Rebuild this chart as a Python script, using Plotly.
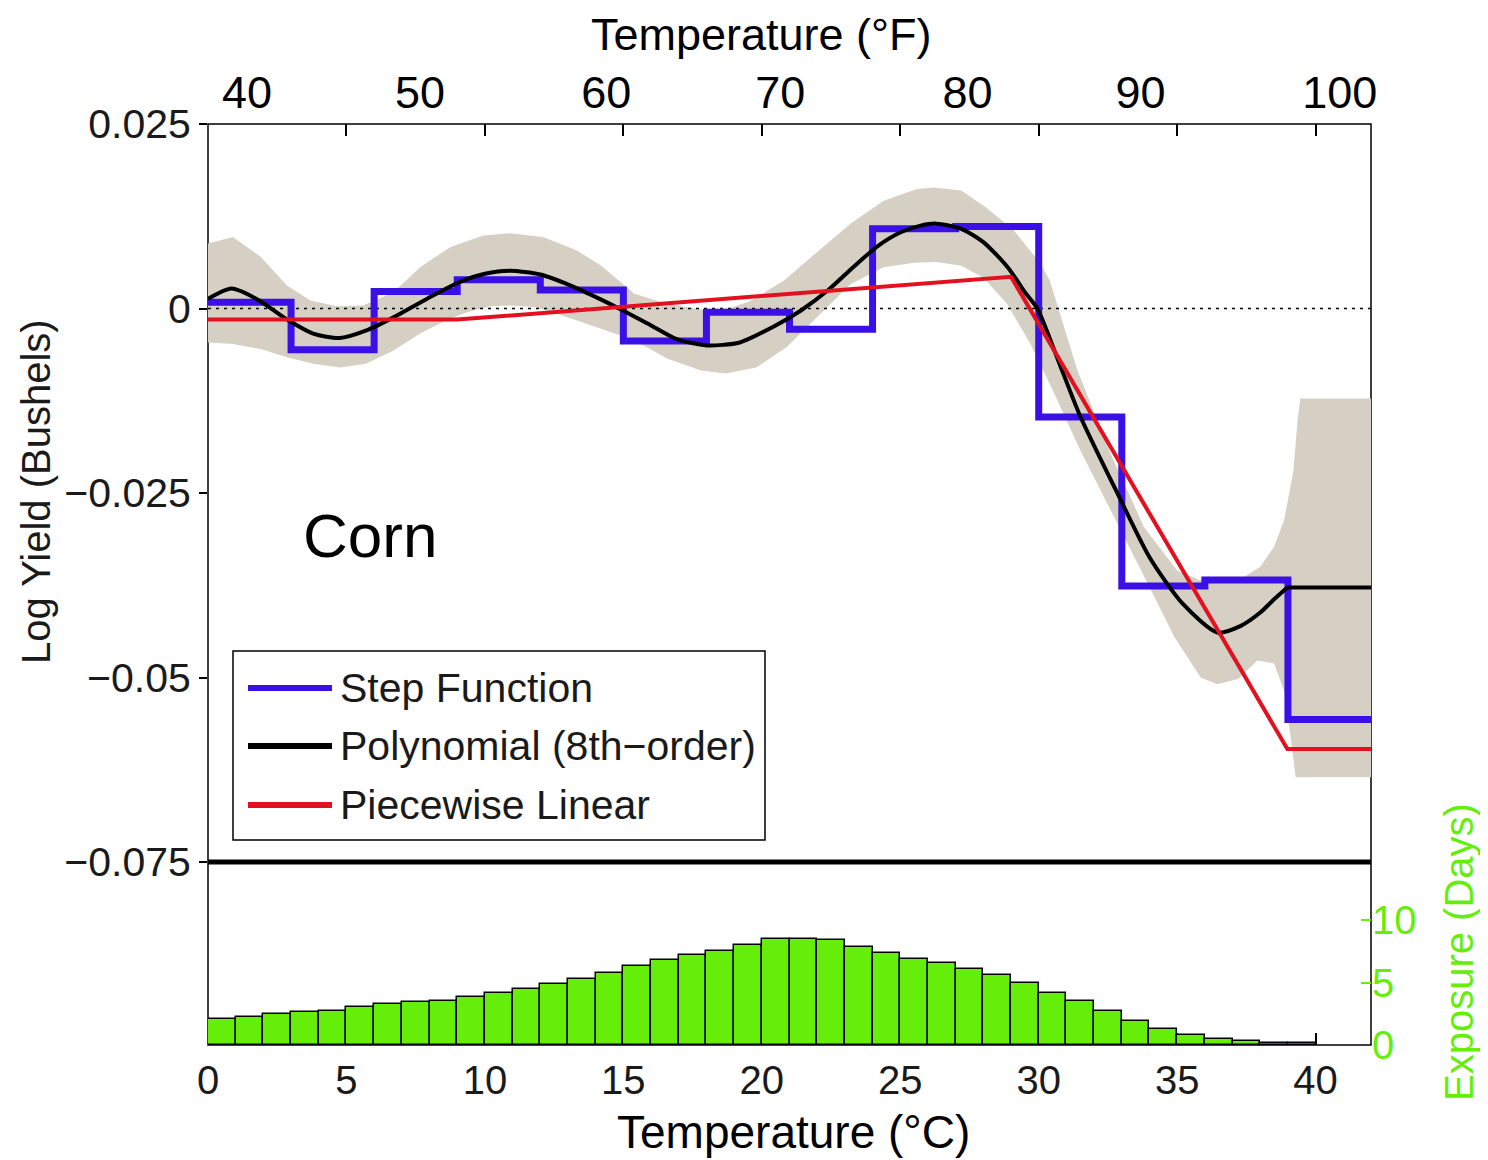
import plotly.graph_objects as go

# ---------------- data ----------------
# Step function (3 °C bins)
STEP_EDGES_C = [0, 3, 6, 9, 12, 15, 18, 21, 24, 27, 30, 33, 36, 39, 42]
STEP_VALUES = [0.00086, -0.0056, 0.0023, 0.0039, 0.0025, -0.0044, -0.0005,
               -0.0028, 0.0108, 0.0111, -0.0147, -0.0376, -0.0368, -0.0557]

# Polynomial (8th order) curve
POLY_T = [0.0, 0.85, 1.8, 2.9, 3.8, 4.75, 5.7, 6.7, 7.9, 9.1, 10.0, 10.9, 12.0,
          13.1, 14.2, 15.0, 16.0, 16.9, 18.0, 19.2, 20.4, 21.4, 22.4, 23.3, 24.2,
          25.0, 25.7, 26.3, 27.2, 28.0, 28.9, 29.5, 29.95, 30.7, 31.5, 32.85,
          34.0, 35.2, 36.45, 37.3, 38.0, 38.5, 38.98, 42.0]
POLY_V = [0.0013, 0.0027, 0.0012, -0.0016, -0.0034, -0.0040, -0.0030, -0.0012,
          0.0013, 0.0036, 0.0047, 0.0051, 0.0046, 0.0031, 0.0012, -0.0003,
          -0.0023, -0.0041, -0.0050, -0.0046, -0.0025, -0.0003, 0.0025, 0.0056,
          0.0085, 0.0103, 0.0112, 0.0115, 0.0108, 0.0090, 0.0055, 0.0022, 0.0,
          -0.0070, -0.0146, -0.0251, -0.0337, -0.0400, -0.0439, -0.0430, -0.0412,
          -0.0394, -0.0378, -0.0378]
POLY_FLAT_FROM = 38.98   # polynomial held constant beyond this temperature

# Confidence band of polynomial
BAND_UP_T = [0.0, 0.9, 1.9, 2.85, 3.7, 4.65, 5.6, 6.7, 7.66, 8.74, 9.94, 10.9,
             12.1, 13.3, 14.2, 15.4, 16.6, 17.9, 18.8, 19.6, 20.8, 22.0, 23.2,
             24.4, 25.6, 26.2, 27.2, 28.1, 29.1, 30.06, 30.4, 31.4, 32.6, 33.8,
             35.0, 35.8, 36.6, 37.4, 38.0, 38.5, 38.86, 39.2, 39.35, 39.45, 42.0]
BAND_UP_V = [0.0088, 0.0097, 0.0070, 0.0031, 0.0011, 0.0003, 0.0004, 0.0022,
             0.0056, 0.0083, 0.0099, 0.0102, 0.0097, 0.0079, 0.0058, 0.0020,
             0.0006, -0.0002, 0.0000, 0.0010, 0.0038, 0.0076, 0.0115, 0.0146,
             0.0162, 0.0164, 0.0160, 0.0137, 0.0106, 0.0061, 0.0038, -0.0084,
             -0.0197, -0.0296, -0.0355, -0.0368, -0.0368, -0.0364, -0.0350,
             -0.0323, -0.0287, -0.0220, -0.0150, -0.0122, -0.0122]
BAND_LO_T = [0.0, 0.9, 1.9, 2.85, 3.8, 4.77, 5.7, 6.7, 7.66, 8.6, 9.35, 10.2,
             10.9, 11.8, 12.5, 13.3, 14.2, 15.4, 16.6, 17.8, 18.7, 19.8, 20.9,
             22.0, 23.2, 24.4, 25.5, 26.3, 27.2, 28.0, 28.86, 29.7, 30.5, 31.5,
             32.6, 33.7, 34.9, 35.85, 36.45, 37.2, 37.9, 38.5, 38.86, 39.1,
             39.28, 42.0]
BAND_LO_V = [-0.0046, -0.0048, -0.0055, -0.0066, -0.0075, -0.0080, -0.0075,
             -0.0057, -0.0034, -0.0016, -0.0005, 0.0003, 0.0004, 0.0002, -0.0006,
             -0.0016, -0.0027, -0.0043, -0.0068, -0.0084, -0.0088, -0.0080,
             -0.0052, -0.0012, 0.0033, 0.0056, 0.0062, 0.0063, 0.0058, 0.0042,
             0.0006, -0.0048, -0.0110, -0.0192, -0.0274, -0.0355, -0.0445,
             -0.0500, -0.0509, -0.0502, -0.0477, -0.0481, -0.0518, -0.0581,
             -0.0635, -0.0635]

# Piecewise linear
PWL_T = [0, 9.0, 29.0, 38.98, 42]
PWL_V = [-0.0015, -0.0015, 0.0043, -0.0597, -0.0597]

# Exposure histogram (days per 1 °C bin, 0..40 °C)
EXPOSURE_DAYS = [2.10, 2.27, 2.46, 2.62, 2.75, 3.07, 3.26, 3.42, 3.55, 3.87,
                 4.19, 4.51, 4.86, 5.31, 5.79, 6.30, 6.78, 7.23, 7.52, 8.03,
                 8.51, 8.51, 8.38, 7.87, 7.39, 6.91, 6.59, 6.11, 5.63, 4.99,
                 4.19, 3.52, 2.72, 1.92, 1.26, 0.78, 0.51, 0.35, 0.19, 0.15]

# Axis ticks
C_TICKS = [0, 5, 10, 15, 20, 25, 30, 35, 40]
F_LABELS = ["40", "50", "60", "70", "80", "90", "100"]
F_LABEL_POS_C = [1.41, 7.66, 14.38, 20.67, 27.43, 33.68, 40.87]
Y_TICKS = [0.025, 0, -0.025, -0.05, -0.075]
Y_TICKTEXT = ["0.025", "0", "\u22120.025", "\u22120.05", "\u22120.075"]
EXPO_TICKS = [0, 5, 10]

LEGEND_LABELS = ["Step Function", "Polynomial (8th\u2212order)", "Piecewise Linear"]

# ---------------- styling ----------------
FONT = "Liberation Sans, Arial, Helvetica, sans-serif"
BLUE = "#3a10e6"
RED = "#e3101f"
GREEN = "#64ee0a"
BAND = "#d5d0c3"
TXT = "#1a1a1a"

# page offset (default body margin of the html page)
OFF = 8
W, H = 1488 - OFF, 1160 - OFF
# plot area in screenshot pixels
L, R, T, B = 208, 1371, 124, 1045
PW, PH = R - L, B - T


def px_x(px):
    return (px - L) / PW


def px_y(py):
    return (B - py) / PH


SPLIT = px_y(862)

fig = go.Figure()

# confidence band
fig.add_trace(go.Scatter(
    x=BAND_UP_T + BAND_LO_T[::-1], y=BAND_UP_V + BAND_LO_V[::-1],
    fill="toself", fillcolor=BAND, line=dict(width=0), mode="lines",
    hoverinfo="skip", xaxis="x", yaxis="y"))

# zero reference line
fig.add_trace(go.Scatter(
    x=[STEP_EDGES_C[0], STEP_EDGES_C[-1]], y=[0, 0], mode="lines",
    line=dict(color="black", width=1.5, dash="3px,5px"),
    hoverinfo="skip", xaxis="x", yaxis="y"))

# step function
fig.add_trace(go.Scatter(
    x=STEP_EDGES_C, y=STEP_VALUES + [STEP_VALUES[-1]], mode="lines",
    line=dict(color=BLUE, width=7, shape="hv"), xaxis="x", yaxis="y"))

# polynomial: smooth part + constant tail
k = POLY_T.index(POLY_FLAT_FROM)
fig.add_trace(go.Scatter(
    x=POLY_T[:k + 1], y=POLY_V[:k + 1], mode="lines",
    line=dict(color="black", width=4, shape="spline", smoothing=0.7),
    xaxis="x", yaxis="y"))
fig.add_trace(go.Scatter(
    x=POLY_T[k:], y=POLY_V[k:], mode="lines",
    line=dict(color="black", width=4), xaxis="x", yaxis="y"))

# piecewise linear
fig.add_trace(go.Scatter(
    x=PWL_T, y=PWL_V, mode="lines",
    line=dict(color=RED, width=4), xaxis="x", yaxis="y"))

# exposure histogram
fig.add_trace(go.Bar(
    x=[i + 0.5 for i in range(len(EXPOSURE_DAYS))], y=EXPOSURE_DAYS, width=1,
    marker=dict(color=GREEN, line=dict(color="black", width=1.5)),
    xaxis="x", yaxis="y2"))

# empty traces so that the top (°F) axes get drawn
fig.add_trace(go.Scatter(x=[], y=[], xaxis="x2", yaxis="y", hoverinfo="skip"))
fig.add_trace(go.Scatter(x=[], y=[], xaxis="x3", yaxis="y", hoverinfo="skip"))

axis_common = dict(showgrid=False, zeroline=False, showline=False)

fig.update_layout(
    width=W, height=H,
    margin=dict(l=L - OFF, r=W - (R - OFF), t=T - OFF, b=H - (B - OFF)),
    plot_bgcolor="white", paper_bgcolor="white",
    showlegend=False, bargap=0,
    font=dict(family=FONT, color=TXT),
    xaxis=dict(domain=[0, 1], range=[0, 42], anchor="y2",
               tickvals=C_TICKS, ticks="inside", ticklen=12, tickwidth=1.5,
               tickcolor="black", tickfont=dict(size=40, color=TXT),
               ticklabelstandoff=8, layer="below traces", **axis_common),
    xaxis2=dict(overlaying="x", anchor="y", side="top", range=[0, 42],
                tickvals=F_LABEL_POS_C, ticktext=F_LABELS, ticks="",
                tickfont=dict(size=45, color="black"), ticklabelstandoff=6,
                **axis_common),
    xaxis3=dict(overlaying="x", anchor="y", side="top", range=[0, 42],
                tickvals=C_TICKS[1:], ticks="inside", ticklen=12, tickwidth=1.5,
                tickcolor="black", showticklabels=False, **axis_common),
    yaxis=dict(domain=[SPLIT, 1], range=[-0.075, 0.025], anchor="x",
               tickvals=Y_TICKS, ticktext=Y_TICKTEXT, ticks="outside",
               ticklen=8, tickwidth=1.5, tickcolor="black",
               tickfont=dict(size=41, color=TXT), layer="below traces",
               **axis_common),
    yaxis2=dict(domain=[0, SPLIT], range=[0, (B - 862) / 12.5], anchor="x",
                side="right", tickvals=EXPO_TICKS, ticks="inside", ticklen=10,
                tickwidth=1.5, tickcolor=GREEN,
                tickfont=dict(size=40, color=GREEN), **axis_common),
)

shapes = [
    # frame
    dict(type="rect", xref="paper", yref="paper", x0=0, x1=1, y0=0, y1=1,
         line=dict(color="black", width=1.5), layer="below"),
    # thick divider at -0.075
    dict(type="line", xref="paper", yref="paper", x0=0, x1=1, y0=SPLIT, y1=SPLIT,
         line=dict(color="black", width=5), layer="above"),
    # legend box
    dict(type="rect", xref="paper", yref="paper",
         x0=px_x(233), x1=px_x(765), y0=px_y(840), y1=px_y(651),
         line=dict(color="black", width=1.5), fillcolor="white", layer="above"),
]
leg_colors = [BLUE, "black", RED]
leg_y = [688, 746, 805]
annotations = []
for lab, col, yy in zip(LEGEND_LABELS, leg_colors, leg_y):
    shapes.append(dict(type="line", xref="paper", yref="paper",
                       x0=px_x(248), x1=px_x(332), y0=px_y(yy), y1=px_y(yy),
                       line=dict(color=col, width=6), layer="above"))
    annotations.append(dict(text=lab, xref="paper", yref="paper",
                            x=px_x(338), y=px_y(yy), xanchor="left",
                            yanchor="middle", showarrow=False,
                            font=dict(size=41, color=TXT)))

annotations += [
    dict(text="Temperature (°F)", xref="paper", yref="paper", x=px_x(761),
         y=px_y(35), xanchor="center", yanchor="middle", showarrow=False,
         font=dict(size=45, color="black")),
    dict(text="Temperature (°C)", xref="paper", yref="paper", x=px_x(793),
         y=px_y(1132), xanchor="center", yanchor="middle", showarrow=False,
         font=dict(size=46, color="black")),
    dict(text="Log Yield (Bushels)", xref="paper", yref="paper", x=px_x(36),
         y=px_y(492), xanchor="center", yanchor="middle", showarrow=False,
         textangle=-90, font=dict(size=40, color=TXT)),
    dict(text="Exposure (Days)", xref="paper", yref="paper", x=px_x(1459),
         y=px_y(952), xanchor="center", yanchor="middle", showarrow=False,
         textangle=-90, font=dict(size=40, color=GREEN)),
    dict(text="Corn", xref="paper", yref="paper", x=px_x(370), y=px_y(535),
         xanchor="center", yanchor="middle", showarrow=False,
         font=dict(size=62, color="black")),
]

fig.update_layout(shapes=shapes, annotations=annotations)

fig.write_html("out.html")
